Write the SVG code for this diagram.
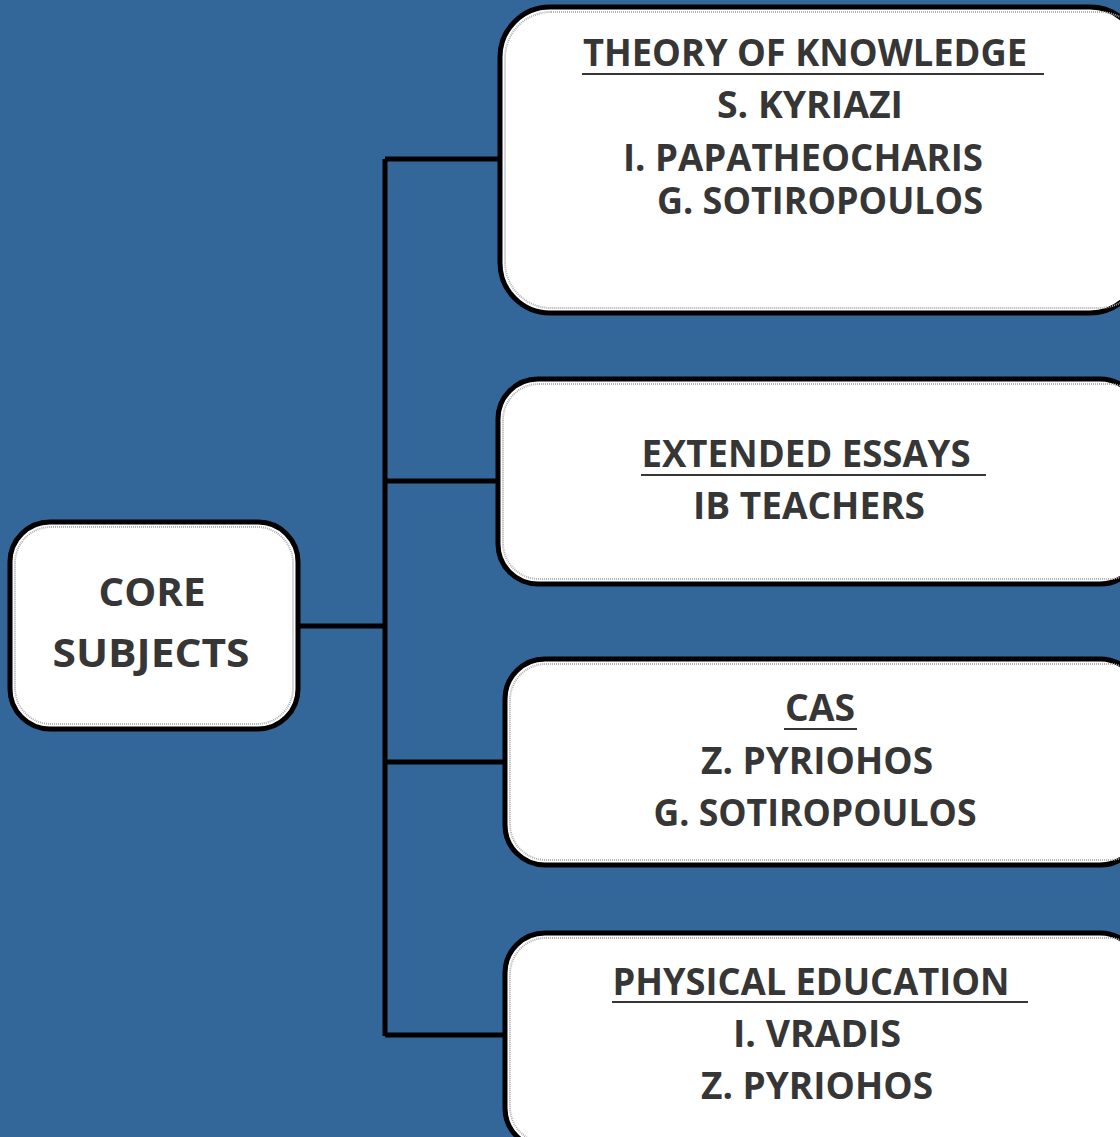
<svg xmlns="http://www.w3.org/2000/svg" width="1120" height="1137" viewBox="0 0 1120 1137">
<style>
.box{fill:#ffffff;stroke:#000000;stroke-width:5}
.inner{fill:none;stroke:#b0b0b0;stroke-width:2;stroke-dasharray:1 1}
.t{font-family:"Open Sans","DejaVu Sans",sans-serif;font-weight:bold;font-size:37px;fill:#363636;text-anchor:middle;lengthAdjust:spacingAndGlyphs}
.c{font-size:40px}
.ul{stroke:#363636;stroke-width:2}
.conn{fill:none;stroke:#000000;stroke-width:5}
</style>
<rect width="1120" height="1137" fill="#336699"/>
<g id="connectors">
<path class="conn" d="M298,626 H385 M385,159 V1036 M385,159 H500 M385,481 H498 M385,762 H505 M385,1035 H505"/>
</g>
<g id="core">
<rect class="box" x="10" y="522" width="288" height="207" rx="40"/>
<rect class="inner" x="15" y="527" width="278" height="197" rx="36"/>
<text class="t c" x="152" y="606" textLength="107" lengthAdjust="spacingAndGlyphs">CORE</text>
<text class="t c" x="151" y="667" textLength="197" lengthAdjust="spacingAndGlyphs">SUBJECTS</text>
</g>
<g id="tok">
<rect class="box" x="500" y="7" width="640" height="306" rx="50"/>
<rect class="inner" x="505" y="12" width="640" height="296" rx="46"/>
<text class="t" x="805" y="66" textLength="444" lengthAdjust="spacingAndGlyphs">THEORY OF KNOWLEDGE</text>
<line class="ul" x1="582" y1="74" x2="1044" y2="74"/>
<text class="t" x="810" y="118" textLength="186" lengthAdjust="spacingAndGlyphs">S. KYRIAZI</text>
<text class="t" x="803" y="171" textLength="360" lengthAdjust="spacingAndGlyphs">I. PAPATHEOCHARIS</text>
<text class="t" x="820" y="214" textLength="326" lengthAdjust="spacingAndGlyphs">G. SOTIROPOULOS</text>
</g>
<g id="ee">
<rect class="box" x="498" y="379" width="642" height="205" rx="40"/>
<rect class="inner" x="503" y="384" width="642" height="195" rx="36"/>
<text class="t" x="806" y="467" textLength="329" lengthAdjust="spacingAndGlyphs">EXTENDED ESSAYS</text>
<line class="ul" x1="641" y1="475" x2="986" y2="475"/>
<text class="t" x="809" y="519" textLength="232" lengthAdjust="spacingAndGlyphs">IB TEACHERS</text>
</g>
<g id="cas">
<rect class="box" x="505" y="659" width="635" height="206" rx="40"/>
<rect class="inner" x="510" y="664" width="635" height="196" rx="36"/>
<text class="t" x="820" y="721" textLength="70" lengthAdjust="spacingAndGlyphs">CAS</text>
<line class="ul" x1="784" y1="729" x2="857" y2="729"/>
<text class="t" x="817" y="774" textLength="232" lengthAdjust="spacingAndGlyphs">Z. PYRIOHOS</text>
<text class="t" x="815" y="826" textLength="323" lengthAdjust="spacingAndGlyphs">G. SOTIROPOULOS</text>
</g>
<g id="pe">
<rect class="box" x="505" y="933" width="635" height="215" rx="40"/>
<rect class="inner" x="510" y="938" width="635" height="205" rx="36"/>
<text class="t" x="811" y="995" textLength="397" lengthAdjust="spacingAndGlyphs">PHYSICAL EDUCATION</text>
<line class="ul" x1="612" y1="1002" x2="1028" y2="1002"/>
<text class="t" x="817" y="1047" textLength="168" lengthAdjust="spacingAndGlyphs">I. VRADIS</text>
<text class="t" x="817" y="1099" textLength="232" lengthAdjust="spacingAndGlyphs">Z. PYRIOHOS</text>
</g>
</svg>
